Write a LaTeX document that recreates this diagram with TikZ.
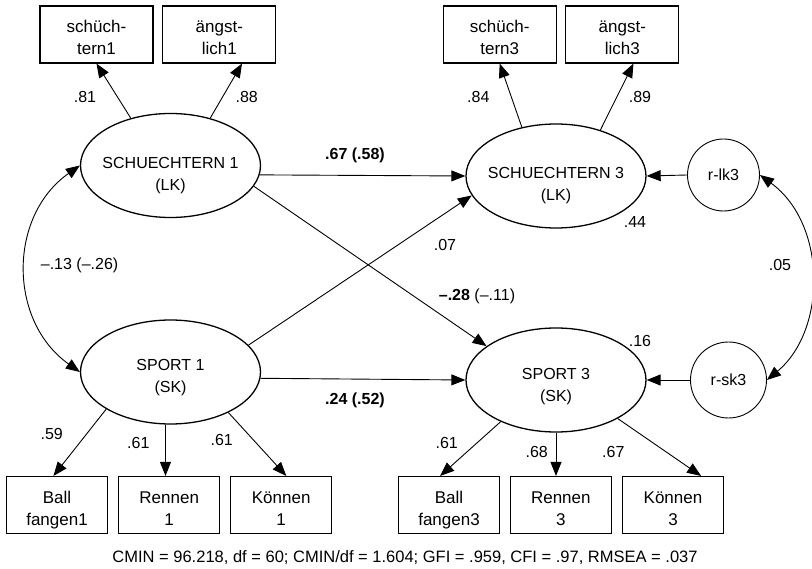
\documentclass[tikz,border=0pt]{standalone}
\usepackage{fontspec}
\setmainfont{Liberation Sans}
\usetikzlibrary{shapes.geometric,arrows.meta,calc}
\newcommand\twoline[2]{\raisebox{-5pt}[\height][\depth]{\begin{tabular}{@{}c@{}}#1\\#2\end{tabular}}}
\begin{document}
\begin{tikzpicture}[x=1pt,y=-1pt,
  every node/.style={font=\fontsize{16}{22}\selectfont},
  lat/.style={ellipse, draw, line width=1.3pt, minimum width=180pt, minimum height=104pt, inner sep=0pt},
  lattext/.style={align=center, inner sep=0pt},
  obs/.style={rectangle, draw, line width=1.1pt, minimum width=113pt, minimum height=57pt, inner sep=0pt, font=\fontsize{17}{22}\selectfont},
  obsb/.style={obs, minimum width=101pt},
  res/.style={circle, draw, line width=0.9pt, inner sep=0pt},
  lbl/.style={inner sep=0pt},
  arr/.style={-{Triangle[length=14pt,width=11pt]}, line width=0.9pt},
  darr/.style={{Triangle[length=14pt,width=11pt]}-{Triangle[length=14pt,width=11pt]}, line width=0.9pt},
]
\useasboundingbox (0,0) rectangle (812,569);

% observed indicators (top)
\node[obs] (sch1) at (96.5,34.5) {\twoline{schüch-}{tern1}};
\node[obs] (ang1) at (219.3,34.5) {\twoline{ängst-}{lich1}};
\node[obs] (sch3) at (499.7,34.5) {\twoline{schüch-}{tern3}};
\node[obs] (ang3) at (622.3,34.5) {\twoline{ängst-}{lich3}};

% latent variables
\node[lat, label={[lattext, yshift=-10pt]center:SCHUECHTERN 1\\(LK)}] (S1) at (170.5,165.5) {};
\node[lat, label={[lattext, yshift=-10pt]center:SCHUECHTERN 3\\(LK)}] (S3) at (556,176) {};
\node[lat, label={[lattext, yshift=-5.5pt]center:SPORT 1\\(SK)}] (SP1) at (170.5,372) {};
\node[lat, label={[lattext, yshift=-7pt]center:SPORT 3\\(SK)}] (SP3) at (556,380) {};

% residuals
\node[res, minimum size=72pt] (rlk) at (723.5,175) {r-lk3};
\node[res, minimum size=76pt] (rsk) at (728.5,380) {r-sk3};

% observed indicators (bottom)
\node[obsb] (bf1) at (57,505) {\twoline{Ball}{fangen1}};
\node[obsb] (rn1) at (169.2,505) {\twoline{Rennen}{1}};
\node[obsb] (kn1) at (281.2,505) {\twoline{Können}{1}};
\node[obsb] (bf3) at (449,505) {\twoline{Ball}{fangen3}};
\node[obsb] (rn3) at (560.8,505) {\twoline{Rennen}{3}};
\node[obsb] (kn3) at (673,505) {\twoline{Können}{3}};

% loadings top
\draw[arr] (S1.130.9) -- (sch1.south);
\draw[arr] (S1.50.8) -- (ang1.-52.7);
\draw[arr] (S3.125.6) -- (sch3.south);
\draw[arr] (S3.46.4) -- (ang3.-69);

% structural paths
\draw[arr] (S1.-6.1) -- (S3.west);
\draw[arr] (SP1.-4) -- (SP3.west);
\draw[arr] (S1.-14.4) -- (SP3.154.2);
\draw[arr] (SP1.19.8) -- (S3.193.8);
\draw[arr] (rlk.west) -- (S3.east);
\draw[arr] (rsk.west) -- (SP3.east);

% loadings bottom
\coordinate (sp1s) at ($(SP1.south)+(-5,0)$);
\draw[arr] (SP1.210.1) -- (bf1.97.4);
\draw[arr] (sp1s) -- (sp1s |- rn1.north);
\draw[arr] (SP1.-35.5) -- (kn1.80.4);
\draw[arr] (SP3.217.2) -- (bf3.107.6);
\draw[arr] (SP3.south) -- (SP3.south |- rn3.north);
\draw[arr] (SP3.-32) -- (kn3.46.3);

% covariances
\draw[darr] (S1.west) .. controls (8,216) and (8,321) .. (SP1.west);
\draw[darr] (rlk.east) .. controls (827,224) and (827,330) .. (rsk.east);

% labels
\node[lbl] (l81) at (85,97) {.81};
\node[lbl] (l88) at (246.7,97) {.88};
\node[lbl] (l84) at (478.3,96.7) {.84};
\node[lbl] (l89) at (640,96.7) {.89};
\node[lbl] (l44) at (635,221.7) {.44};
\node[lbl] (l07) at (445,245) {.07};
\node[lbl] (l05) at (780,265) {.05};
\node[lbl, anchor=west] (l13) at (40.7,265) {–.13 (–.26)};
\node[lbl] (l67) at (355,155) {\textbf{.67 (.58)}};
\node[lbl] (l24) at (355,400) {\textbf{.24 (.52)}};
\node[lbl] (l28) at (477,296.7) {\textbf{–.28} (–.11)};
\node[lbl] (l16) at (640,341) {.16};
\node[lbl] (l59) at (51.7,434) {.59};
\node[lbl] (l61a) at (138.3,443.3) {.61};
\node[lbl] (l61b) at (221.7,440) {.61};
\node[lbl] (l61c) at (446.7,443.3) {.61};
\node[lbl] (l68) at (536.7,451.7) {.68};
\node[lbl] (l67b) at (613.3,451.7) {.67};

% fit
\node[lbl, font=\fontsize{16.5}{22}\selectfont] (fit) at (405,558) {CMIN = 96.218, df = 60; CMIN/df = 1.604; GFI = .959, CFI = .97, RMSEA = .037};
\end{tikzpicture}
\end{document}
